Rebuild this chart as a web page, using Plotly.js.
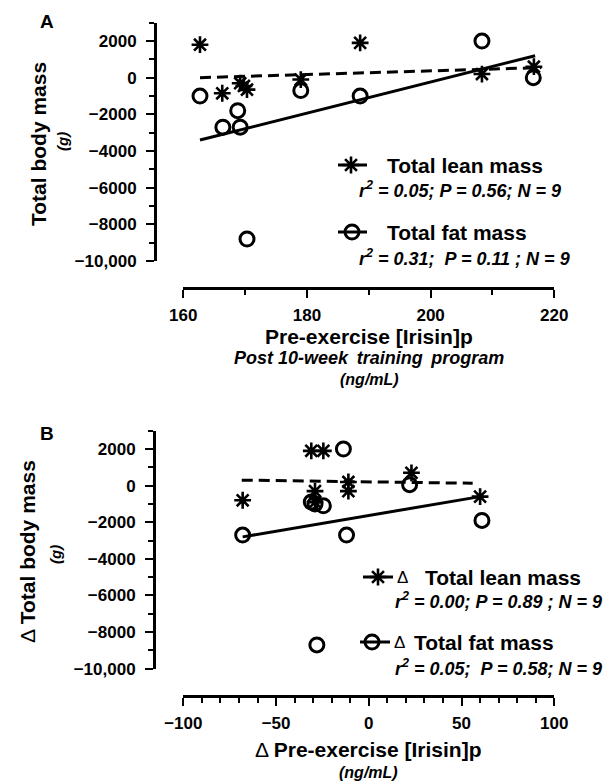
<!DOCTYPE html>
<html><head><meta charset="utf-8">
<script src="https://cdn.plot.ly/plotly-3.0.1.min.js"></script>
<style>html,body{margin:0;padding:0;background:#fff}#chart{width:613px;height:784px}</style>
</head><body><div id="chart"></div>
<script>
// ---------- Panel A data ----------
const aLeanX = [162.7, 166.3, 169.2, 169.8, 170.3, 179.0, 188.6, 208.3, 216.7];
const aLeanY = [1800, -850, -300, -450, -650, -100, 1900, 200, 600];
const aFatX  = [162.7, 166.4, 168.8, 169.2, 170.3, 179.0, 188.6, 208.3, 216.6];
const aFatY  = [-1000, -2700, -1800, -2700, -8800, -700, -1000, 2000, 0];
const aLeanFitX = [162.7, 217.9];
const aLeanFitY = [0, 550];
const aFatFitX  = [162.7, 216.9];
const aFatFitY  = [-3400, 1200];
const aXTicks = [160, 180, 200, 220];
const aXTickText = ['160', '180', '200', '220'];

// ---------- Panel B data ----------
const bLeanX = [-68, -31, -24.5, -29, -29, -11, -11, 23, 60];
const bLeanY = [-800, 1900, 1900, -300, -900, 200, -300, 700, -600];
const bFatX  = [-68, -31, -29, -24.5, -13.7, -12, 22, 61, -28];
const bFatY  = [-2700, -900, -1000, -1100, 2000, -2700, 50, -1900, -8700];
const bLeanFitX = [-68.5, 56];
const bLeanFitY = [300, 130];
const bFatFitX  = [-68, 60];
const bFatFitY  = [-2800, -600];
const bXTicks = [-100, -50, 0, 50, 100];
const bXTickText = ['\u2212100', '\u221250', '0', '50', '100'];

// ---------- shared y ticks ----------
const yTicks = [2000, 0, -2000, -4000, -6000, -8000, -10000];
const yTickText = ['2000', '0', '\u22122000', '\u22124000', '\u22126000', '\u22128000', '\u221210,000'];

// ---------- text ----------
const legA = [
  {name: 'Total lean mass', stats: '<i>r<sup>2</sup> = 0.05; P = 0.56; N = 9</i>'},
  {name: 'Total fat mass',  stats: '<i>r<sup>2</sup> = 0.31;\u00a0 P = 0.11\u00a0; N = 9</i>'}
];
const legB = [
  {name: 'Total lean mass', stats: '<i>r<sup>2</sup> = 0.00; P = 0.89\u00a0; N = 9</i>'},
  {name: 'Total fat mass',  stats: '<i>r<sup>2</sup> = 0.05;\u00a0 P = 0.58; N = 9</i>'}
];

const W = 613, H = 784;
const fx = px => px / W;
const fy = py => 1 - py / H;
const FONT = 'Liberation Sans, Arial, Helvetica, sans-serif';
const K = '#000';
const bold = arr => arr.map(s => '<b>' + s + '</b>');

const starM = {symbol: 'asterisk-open', size: 14, color: K, line: {color: K, width: 2.6}};
const circM = {symbol: 'circle-open', size: 14, color: K, line: {color: K, width: 3}};

const traces = [
  // Panel A
  {x: aLeanFitX, y: aLeanFitY, mode: 'lines', line: {color: K, width: 3, dash: '11px,6px'}, xaxis: 'x', yaxis: 'y'},
  {x: aFatFitX, y: aFatFitY, mode: 'lines', line: {color: K, width: 3}, xaxis: 'x', yaxis: 'y'},
  {x: aFatX, y: aFatY, mode: 'markers', marker: circM, xaxis: 'x', yaxis: 'y'},
  {x: aLeanX, y: aLeanY, mode: 'markers', marker: starM, xaxis: 'x', yaxis: 'y'},
  // Panel B
  {x: bLeanFitX, y: bLeanFitY, mode: 'lines', line: {color: K, width: 3, dash: '11px,6px'}, xaxis: 'x2', yaxis: 'y2'},
  {x: bFatFitX, y: bFatFitY, mode: 'lines', line: {color: K, width: 3}, xaxis: 'x2', yaxis: 'y2'},
  {x: bFatX, y: bFatY, mode: 'markers', marker: circM, xaxis: 'x2', yaxis: 'y2'},
  {x: bLeanX, y: bLeanY, mode: 'markers', marker: starM, xaxis: 'x2', yaxis: 'y2'},
];

// legend samples on a hidden pixel-space overlay axis
function sample(x0, x1, y, xm, marker) {
  traces.push({x: [x0, x1], y: [y, y], mode: 'lines', line: {color: K, width: 3}, xaxis: 'x3', yaxis: 'y3', cliponaxis: false});
  traces.push({x: [xm], y: [y], mode: 'markers', marker: marker, xaxis: 'x3', yaxis: 'y3', cliponaxis: false});
}
sample(338, 367, 165, 351, starM);
sample(338, 367, 232, 352, circM);
sample(363, 393, 577, 378, starM);
sample(360, 390, 642, 372, circM);

const tickFont = {family: FONT, size: 17, color: K, weight: 'bold'};

function yAxis(top, bottom, posX) {
  return {
    domain: [fy(bottom), fy(top)], range: [-10000, 3000], anchor: 'free', position: fx(posX),
    showline: true, linecolor: K, linewidth: 2.5, showgrid: false, zeroline: false,
    tickmode: 'array', tickvals: yTicks, ticktext: bold(yTickText),
    ticks: 'outside', ticklen: 8, tickwidth: 2, tickcolor: K, tickfont: tickFont, ticklabelstandoff: 6,
    minor: {tickmode: 'linear', tick0: 0, dtick: 1000, ticks: 'outside', ticklen: 5, tickwidth: 2, tickcolor: K, showgrid: false},
    fixedrange: true
  };
}
function xAxis(range, tv, tt, mdt, posY) {
  return {
    domain: [fx(183.3), fx(554.3)], range: range, anchor: 'free', position: fy(posY),
    showline: true, linecolor: K, linewidth: 2.5, showgrid: false, zeroline: false,
    tickmode: 'array', tickvals: tv, ticktext: bold(tt),
    ticks: 'outside', ticklen: 8, tickwidth: 2, tickcolor: K, tickfont: tickFont, ticklabelstandoff: 3,
    minor: {tickmode: 'linear', tick0: range[0], dtick: mdt, ticks: 'outside', ticklen: 5, tickwidth: 2, tickcolor: K, showgrid: false},
    fixedrange: true
  };
}

function ann(text, px, py, opts) {
  return Object.assign({
    text: text, xref: 'paper', yref: 'paper', x: fx(px), y: fy(py),
    xanchor: 'center', yanchor: 'middle', showarrow: false,
    font: {family: FONT, size: 17, color: K, weight: 'bold'}
  }, opts || {});
}
const F = (size, weight) => ({family: FONT, size: size, color: K, weight: weight || 'bold'});

const annotations = [
  ann('<b>A</b>', 47, 22, {font: F(19)}),
  ann('<b>B</b>', 47, 433, {font: F(19)}),
  // Panel A titles
  ann('<b>Total body mass</b>', 38, 144, {textangle: -90, font: F(21)}),
  ann('<b><i>(g)</i></b>', 62, 142, {textangle: -90, font: F(15)}),
  ann('<b>Pre-exercise [Irisin]p</b>', 369, 336, {font: F(21)}),
  ann('<b><i>Post 10-week\u2009 training\u2009 program</i></b>', 369, 358, {font: F(18)}),
  ann('<b><i>(ng/mL)</i></b>', 369, 379, {font: F(16)}),
  // Panel A legend
  ann('<b>' + legA[0].name + '</b>', 385, 165, {xanchor: 'left', font: F(21)}),
  ann('<b>' + legA[0].stats + '</b>', 357, 189, {xanchor: 'left', font: F(18)}),
  ann('<b>' + legA[1].name + '</b>', 385, 232, {xanchor: 'left', font: F(21)}),
  ann('<b>' + legA[1].stats + '</b>', 357, 257, {xanchor: 'left', font: F(18)}),
  // Panel B titles
  ann('\u0394 <b>Total body mass</b>', 27, 552, {textangle: -90, font: F(21, 'normal')}),
  ann('<b><i>(g)</i></b>', 55, 555, {textangle: -90, font: F(15)}),
  ann('\u0394 <b>Pre-exercise [Irisin]p</b>', 368, 749, {font: F(21, 'normal')}),
  ann('<b><i>(ng/mL)</i></b>', 368, 772, {font: F(16)}),
  // Panel B legend
  ann('\u0394', 402, 577, {font: F(17, 'normal')}),
  ann('<b>' + legB[0].name + '</b>', 423, 577, {xanchor: 'left', font: F(21)}),
  ann('<b>' + legB[0].stats + '</b>', 393, 600, {xanchor: 'left', font: F(18)}),
  ann('\u0394', 399, 642, {font: F(17, 'normal')}),
  ann('<b>' + legB[1].name + '</b>', 412, 642, {xanchor: 'left', font: F(21)}),
  ann('<b>' + legB[1].stats + '</b>', 393, 667, {xanchor: 'left', font: F(18)}),
];

const layout = {
  width: W, height: H, margin: {l: 0, r: 0, t: 0, b: 0},
  paper_bgcolor: '#fff', plot_bgcolor: 'rgba(0,0,0,0)', showlegend: false,
  font: {family: FONT, color: K},
  xaxis: xAxis([160, 220], aXTicks, aXTickText, 10, 288),
  yaxis: yAxis(22.7, 261, 155),
  xaxis2: xAxis([-100, 100], bXTicks, bXTickText, 10, 696),
  yaxis2: yAxis(430.7, 668.7, 154),
  xaxis3: {domain: [0, 1], range: [0, W], visible: false, anchor: 'y3', fixedrange: true},
  yaxis3: {domain: [0, 1], range: [H, 0], visible: false, anchor: 'x3', fixedrange: true},
  annotations: annotations
};

Plotly.newPlot('chart', traces, layout, {staticPlot: true, displayModeBar: false});
</script>
</body></html>
